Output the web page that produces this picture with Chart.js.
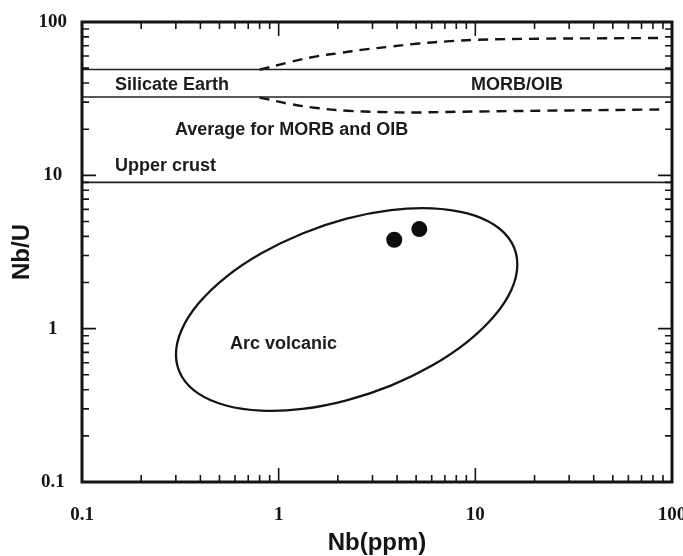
<!DOCTYPE html>
<html><head><meta charset="utf-8">
<script src="https://cdn.jsdelivr.net/npm/chart.js@4.4.1/dist/chart.umd.min.js"></script>
<style>html,body{margin:0;padding:0;background:#fff;}</style>
</head><body>
<canvas id="c" width="683" height="556"></canvas>
<script>
// ---- data ----
const xTickLabels = [0.1, 1, 10, 100];
const yTickLabels = [0.1, 1, 10, 100];
const minorMultipliers = [2, 3, 4, 5, 6, 7, 8, 9];

const sampleNb  = [3.87, 5.19];
const sampleNbU = [3.80, 4.46];

const refLineNb = [0.1, 100];
const silicateUpperNbU = [49, 49];
const silicateLowerNbU = [32.4, 32.4];
const upperCrustNbU = [9.0, 9.0];

const upperDashNb  = [0.80, 1.14, 1.56, 2.05, 2.69, 3.68, 5.03, 7.15, 10.2, 21.3, 45, 92];
const upperDashNbU = [48.8, 54.8, 59.7, 62.8, 66.0, 69.0, 72.2, 74.7, 76.6, 77.8, 78.3, 78.7];
const lowerDashNb  = [0.80, 1.14, 1.56, 2.22, 3.26, 4.81, 7.15, 10.6, 30, 92];
const lowerDashNbU = [32.2, 29.2, 27.5, 26.4, 25.9, 25.7, 25.9, 26.1, 26.5, 26.9];

// outline of the "Arc volcanic" field (closed loop; one point of overlap on each end,
// the two overlap segments are drawn transparent so the loop joins smoothly)
const arcNb  = [15.28, 16.35, 15.28, 12.51, 9.106, 6.026, 3.718, 2.216, 1.321, 0.8168, 0.5397, 0.3928, 0.3217,
                0.3005, 0.3217, 0.3928, 0.5397, 0.8168, 1.321, 2.216, 3.718, 6.026, 9.106, 12.51, 15.28,
                16.35, 15.28];
const arcNbU = [3.650, 2.624, 1.802, 1.212, 0.820, 0.5744, 0.4254, 0.3411, 0.2997, 0.2922, 0.3155, 0.3756, 0.4879,
                0.6786, 0.988, 1.469, 2.171, 3.099, 4.178, 5.218, 5.929, 6.091, 5.643, 4.741, 3.650,
                2.624, 1.802];

const noteText = ['Silicate Earth', 'MORB/OIB', 'Average for MORB and OIB', 'Upper crust', 'Arc volcanic'];
const noteNb   = [0.147, 9.5, 0.297, 0.147, 0.565];
const noteNbU  = [39.0, 39.0, 19.8, 11.55, 0.797];

// ---- chart ----
const pts = (xs, ys) => xs.map((x, i) => ({x: x, y: ys[i]}));
const INK = '#141414';
const SANS = '"Liberation Sans", Arial, Helvetica, sans-serif';
const SERIF = '"Liberation Serif", "Times New Roman", serif';

const framePlugin = {
  id: 'frame',
  afterDatasetsDraw(chart) {
    const {ctx, chartArea: a, scales: {x, y}} = chart;
    ctx.save();
    ctx.strokeStyle = INK;
    ctx.lineWidth = 1.6;
    ctx.beginPath();
    const decades = [0.1, 1, 10];
    decades.forEach((d, di) => {
      const vals = [];
      if (di > 0) vals.push({v: d, major: true});
      minorMultipliers.forEach(m => vals.push({v: d * m, major: false}));
      vals.forEach(t => {
        const len = t.major ? 14 : 7;
        const px = x.getPixelForValue(t.v);
        ctx.moveTo(px, a.bottom); ctx.lineTo(px, a.bottom - len);
        ctx.moveTo(px, a.top); ctx.lineTo(px, a.top + len);
        const py = y.getPixelForValue(t.v);
        ctx.moveTo(a.left, py); ctx.lineTo(a.left + len, py);
        ctx.moveTo(a.right, py); ctx.lineTo(a.right - len, py);
      });
    });
    ctx.stroke();
    ctx.lineWidth = 3;
    ctx.strokeRect(a.left, a.top, a.right - a.left, a.bottom - a.top);
    ctx.restore();
  }
};

const notesPlugin = {
  id: 'notes',
  afterDatasetsDraw(chart) {
    const {ctx, scales: {x, y}} = chart;
    ctx.save();
    ctx.fillStyle = '#1c1c1c';
    ctx.font = 'bold 18px ' + SANS;
    ctx.textAlign = 'left';
    ctx.textBaseline = 'middle';
    noteText.forEach((t, i) => {
      ctx.fillText(t, x.getPixelForValue(noteNb[i]), y.getPixelForValue(noteNbU[i]));
    });
    ctx.restore();
  }
};

const arcLast = arcNb.length - 1;

new Chart(document.getElementById('c'), {
  type: 'scatter',
  data: {
    datasets: [
      {label: 'Silicate Earth upper', data: pts(refLineNb, silicateUpperNbU), showLine: true, borderColor: '#222', borderWidth: 1.6, pointRadius: 0},
      {label: 'Silicate Earth lower', data: pts(refLineNb, silicateLowerNbU), showLine: true, borderColor: '#222', borderWidth: 1.6, pointRadius: 0},
      {label: 'Upper crust', data: pts(refLineNb, upperCrustNbU), showLine: true, borderColor: '#222', borderWidth: 1.6, pointRadius: 0},
      {label: 'MORB/OIB upper', data: pts(upperDashNb, upperDashNbU), showLine: true, tension: 0.4, borderColor: INK, borderWidth: 2.4, borderDash: [10, 7], pointRadius: 0},
      {label: 'MORB/OIB lower', data: pts(lowerDashNb, lowerDashNbU), showLine: true, tension: 0.4, borderColor: INK, borderWidth: 2.4, borderDash: [10, 7], pointRadius: 0},
      {label: 'Arc volcanic', data: pts(arcNb, arcNbU), showLine: true, tension: 0.4, borderColor: INK, borderWidth: 2.3, pointRadius: 0,
        segment: {borderColor: c => (c.p0DataIndex === 0 || c.p1DataIndex === arcLast) ? 'rgba(0,0,0,0)' : undefined}},
      {label: 'Samples', data: pts(sampleNb, sampleNbU), pointRadius: 8, pointBackgroundColor: '#0d0d0d', pointBorderColor: '#0d0d0d', pointBorderWidth: 0}
    ]
  },
  options: {
    responsive: false,
    animation: false,
    devicePixelRatio: 1,
    layout: {padding: {left: 0, right: 11, top: 22, bottom: 0}},
    plugins: {legend: {display: false}, tooltip: {enabled: false}},
    scales: {
      x: {
        type: 'logarithmic', min: 0.1, max: 100, position: 'bottom',
        grid: {display: false, drawTicks: false}, border: {display: false},
        afterBuildTicks: s => { s.ticks = xTickLabels.map(v => ({value: v})); },
        ticks: {autoSkip: false, maxRotation: 0, padding: 22, color: INK,
          font: {family: SERIF, size: 19, weight: 'bold'}, callback: v => String(v)},
        title: {display: true, text: 'Nb(ppm)', color: INK,
          font: {family: SANS, size: 24, weight: 'bold', lineHeight: 1}, padding: {top: 0, bottom: 1}},
        afterFit: s => { s.height = 74; s.paddingLeft = 0; s.paddingRight = 0; }
      },
      y: {
        type: 'logarithmic', min: 0.1, max: 100, position: 'left',
        grid: {display: false, drawTicks: false}, border: {display: false},
        afterBuildTicks: s => { s.ticks = yTickLabels.map(v => ({value: v})); },
        ticks: {autoSkip: false, crossAlign: 'center', padding: 15, color: INK,
          font: {family: SERIF, size: 19, weight: 'bold'}, callback: v => String(v)},
        title: {display: true, text: 'Nb/U', color: INK,
          font: {family: SANS, size: 24, weight: 'bold', lineHeight: 1}, padding: {top: 10, bottom: 0}},
        afterFit: s => { s.width = 82; s.paddingTop = 0; s.paddingBottom = 0; }
      }
    }
  },
  plugins: [framePlugin, notesPlugin]
});
</script>
</body></html>
